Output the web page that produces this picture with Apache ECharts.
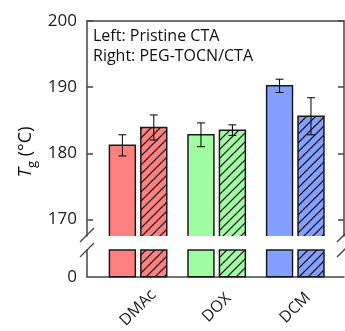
<!DOCTYPE html>
<html>
<head>
<meta charset="utf-8">
<script src="https://cdn.jsdelivr.net/npm/echarts@6/dist/echarts.min.js"></script>
<style>
  html, body { margin: 0; padding: 0; background: #fff; }
  #main { width: 345px; height: 331px; }
</style>
</head>
<body>
<div id="main"></div>
<script>
var categories = ['DMAc', 'DOX', 'DCM'];
var pristine = [181.2, 182.8, 190.2];
var pristineErr = [1.6, 1.8, 1.0];
var pegTocn = [183.9, 183.5, 185.6];
var pegTocnErr = [1.9, 0.8, 2.8];
var upperTicks = [170, 180, 190, 200];
var lowerTicks = [0];
var colors = ['#FF8080', '#A0FCA0', '#839FFF'];

var chart = echarts.init(document.getElementById('main'), null, { renderer: 'canvas' });

var FONT = 'Open Sans';
var AXIS = '#444';
var EDGE = '#1a1a1a';
var BAR_W = 0.33;
var OFF = 0.2;

// hatch pattern "/" over a colour
function hatch(color) {
    var n = 9;
    var c = document.createElement('canvas');
    c.width = n; c.height = n;
    var g = c.getContext('2d');
    g.fillStyle = color;
    g.fillRect(0, 0, n, n);
    g.strokeStyle = '#000';
    g.lineWidth = 1.2;
    g.beginPath();
    g.moveTo(-1, n + 1); g.lineTo(n + 1, -1);
    g.moveTo(-1, 1); g.lineTo(1, -1);
    g.moveTo(n - 1, n + 1); g.lineTo(n + 1, n - 1);
    g.stroke();
    return { image: c, repeat: 'repeat' };
}
var hatchFills = colors.map(hatch);

function rows(vals, errs) {
    return vals.map(function (v, i) { return [i + 1, v, errs[i]]; });
}

function upperBar(off, hatched) {
    return function (params, api) {
        var x = api.value(0), v = api.value(1);
        var i = Math.round(x) - 1;
        var p = api.coord([x + off, v]);
        var w = api.coord([x + BAR_W, v])[0] - api.coord([x, v])[0];
        var cs = params.coordSys;
        var bottom = cs.y + cs.height;
        var l = p[0] - w / 2, r = p[0] + w / 2;
        return {
            type: 'group',
            children: [
                { type: 'rect', shape: { x: l, y: p[1], width: w, height: bottom - p[1] },
                  style: { fill: hatched ? hatchFills[i] : colors[i] } },
                { type: 'polyline', shape: { points: [[l, bottom], [l, p[1]], [r, p[1]], [r, bottom]] },
                  style: { fill: null, stroke: EDGE, lineWidth: 1.5 } }
            ]
        };
    };
}

function lowerBar(off, hatched) {
    return function (params, api) {
        var x = api.value(0);
        var i = Math.round(x) - 1;
        var p = api.coord([x + off, 0]);
        var w = api.coord([x + BAR_W, 0])[0] - api.coord([x, 0])[0];
        var top = params.coordSys.y;
        return {
            type: 'rect',
            shape: { x: p[0] - w / 2, y: top, width: w, height: p[1] - top },
            style: { fill: hatched ? hatchFills[i] : colors[i], stroke: EDGE, lineWidth: 1.5 }
        };
    };
}

function errBar(off) {
    return function (params, api) {
        var x = api.value(0), v = api.value(1), e = api.value(2);
        var hi = api.coord([x + off, v + e]);
        var lo = api.coord([x + off, v - e]);
        var cap = 4;
        var st = { stroke: '#000', lineWidth: 1 };
        return {
            type: 'group',
            children: [
                { type: 'line', shape: { x1: hi[0], y1: hi[1], x2: lo[0], y2: lo[1] }, style: st },
                { type: 'line', shape: { x1: hi[0] - cap, y1: hi[1], x2: hi[0] + cap, y2: hi[1] }, style: st },
                { type: 'line', shape: { x1: lo[0] - cap, y1: lo[1], x2: lo[0] + cap, y2: lo[1] }, style: st }
            ]
        };
    };
}

var axisLine = { show: true, lineStyle: { color: AXIS, width: 1.5 } };
var labelStyle = { color: '#222', fontSize: 17, fontFamily: FONT };

var option = {
    animation: false,
    backgroundColor: '#fff',
    grid: [
        { left: 87, right: 1, top: 21, height: 215 },
        { left: 87, right: 1, top: 250, height: 32 }
    ],
    xAxis: [
        { gridIndex: 0, type: 'value', min: 0.35, max: 3.62, position: 'top',
          axisLine: axisLine, axisTick: { show: false }, axisLabel: { show: false }, splitLine: { show: false } },
        { gridIndex: 1, type: 'value', min: 0.35, max: 3.62, position: 'bottom',
          axisLine: axisLine, axisTick: { show: false }, splitLine: { show: false },
          axisLabel: {
              customValues: [1, 2, 3],
              formatter: function (v) { return categories[Math.round(v) - 1]; },
              rotate: 45, align: 'center', verticalAlign: 'middle', margin: 31,
              color: '#222', fontSize: 16, fontFamily: FONT
          } }
    ],
    yAxis: [
        { gridIndex: 0, type: 'value', min: 167.5, max: 200, position: 'left',
          axisLine: axisLine, splitLine: { show: false },
          axisTick: { inside: true, length: 6, customValues: upperTicks, lineStyle: { color: AXIS, width: 1.5 } },
          axisLabel: Object.assign({ customValues: upperTicks, margin: 10 }, labelStyle) },
        { gridIndex: 1, type: 'value', min: 0, max: 5, position: 'left',
          axisLine: axisLine, splitLine: { show: false }, axisTick: { show: false },
          axisLabel: Object.assign({ customValues: lowerTicks, margin: 10 }, labelStyle) },
        { gridIndex: 0, type: 'value', min: 167.5, max: 200, position: 'right',
          axisLine: axisLine, splitLine: { show: false },
          axisTick: { inside: true, length: 6, customValues: upperTicks, lineStyle: { color: AXIS, width: 1.5 } },
          axisLabel: { show: false } }
    ],
    graphic: [
        { type: 'text', left: 93, top: 26, style: {
            text: 'Left: Pristine CTA\nRight: PEG-TOCN/CTA',
            fill: '#111', fontSize: 16, lineHeight: 20, fontFamily: FONT } },
        { type: 'text', x: 26, y: 152, rotation: Math.PI / 2, style: {
            text: '{t|T}{s|g} {n|(°C)}',
            align: 'center', verticalAlign: 'middle', fill: '#111', fontSize: 18, fontFamily: FONT,
            rich: {
                t: { fontSize: 19, fontStyle: 'italic', fontFamily: FONT, lineHeight: 26, verticalAlign: 'middle' },
                s: { fontSize: 13, fontFamily: FONT, lineHeight: 26, verticalAlign: 'bottom', padding: [10, 0, 0, 0] },
                n: { fontSize: 18, fontFamily: FONT, lineHeight: 26, verticalAlign: 'middle' }
            }
        } },
        // axis break marks
        { type: 'line', shape: { x1: 80, y1: 242, x2: 94, y2: 228 }, style: { stroke: AXIS, lineWidth: 1.3 } },
        { type: 'line', shape: { x1: 80, y1: 257, x2: 94, y2: 243 }, style: { stroke: AXIS, lineWidth: 1.3 } },
        { type: 'line', shape: { x1: 337, y1: 242, x2: 351, y2: 228 }, style: { stroke: AXIS, lineWidth: 1.3 } },
        { type: 'line', shape: { x1: 337, y1: 257, x2: 351, y2: 243 }, style: { stroke: AXIS, lineWidth: 1.3 } }
    ],
    series: [
        { type: 'custom', xAxisIndex: 0, yAxisIndex: 0, data: rows(pristine, pristineErr), renderItem: upperBar(-OFF, false), clip: true },
        { type: 'custom', xAxisIndex: 0, yAxisIndex: 0, data: rows(pegTocn, pegTocnErr), renderItem: upperBar(OFF, true), clip: true },
        { type: 'custom', xAxisIndex: 1, yAxisIndex: 1, data: rows(pristine, pristineErr), renderItem: lowerBar(-OFF, false) },
        { type: 'custom', xAxisIndex: 1, yAxisIndex: 1, data: rows(pegTocn, pegTocnErr), renderItem: lowerBar(OFF, true) },
        { type: 'custom', xAxisIndex: 0, yAxisIndex: 0, data: rows(pristine, pristineErr), renderItem: errBar(-OFF), z: 5 },
        { type: 'custom', xAxisIndex: 0, yAxisIndex: 0, data: rows(pegTocn, pegTocnErr), renderItem: errBar(OFF), z: 5 }
    ]
};

chart.setOption(option);

window.onresize = function () {
    chart.resize();
};
</script>
</body>
</html>
